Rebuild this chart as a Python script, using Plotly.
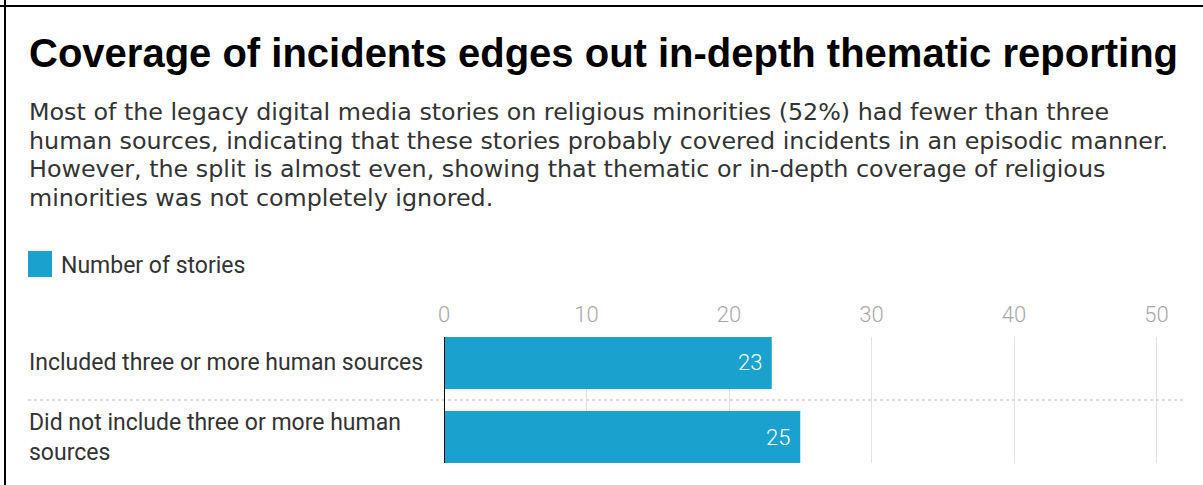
import plotly.graph_objects as go

categories = ["Included three or more human sources",
              "Did not include three or more human sources"]
category_labels = ["Included three or more human sources",
                   "Did not include three or more human<br>sources"]
values = [23, 25]
series_name = "Number of stories"
tick_values = [0, 10, 20, 30, 40, 50]

title = "Coverage of incidents edges out in-depth thematic reporting"
subtitle_lines = [
    "Most of the legacy digital media stories on religious minorities (52%) had fewer than three",
    "human sources, indicating that these stories probably covered incidents in an episodic manner.",
    "However, the split is almost even, showing that thematic or in-depth coverage of religious",
    "minorities was not completely ignored.",
]

BAR = "#1aa1cd"
W, H = 1203, 485
L, R, T, B = 444, 18, 337, 22
pw = W - L - R
ph = H - T - B

def px_x(px):
    return (px - L) / pw

def px_y(py):
    return 1 - (py - T) / ph

fig = go.Figure()
fig.add_trace(go.Bar(
    y=categories, x=values, orientation="h", name=series_name,
    marker=dict(color=BAR, line=dict(width=0)),
    width=0.70, textposition="none",
    showlegend=False, cliponaxis=False, hoverinfo="x+y",
))

fig.update_layout(
    width=W, height=H,
    margin=dict(l=L, r=R, t=T, b=B, pad=0),
    paper_bgcolor="white", plot_bgcolor="white",
    font=dict(family="Roboto", color="#333333"),
    xaxis=dict(range=[0, 52], side="top", tickvals=tick_values,
               showgrid=True, gridcolor="#e2e2e2", gridwidth=1,
               zeroline=False, showline=False, ticks="",
               tickfont=dict(family="Roboto", size=22, color="#a8a8a8", weight=300),
               ticklabelstandoff=10, fixedrange=True),
    yaxis=dict(categoryorder="array", categoryarray=categories,
               autorange=False, range=[1.35, -0.35],
               showticklabels=False, showgrid=False, zeroline=False,
               showline=False, ticks="", fixedrange=True),
)

annotations = []
annotations.append(dict(text="<b>" + title + "</b>", xref="paper", yref="paper",
                        x=px_x(27), y=px_y(53), xanchor="left", yanchor="middle",
                        showarrow=False,
                        font=dict(family="Liberation Sans", size=40, color="#000000")))
for i, line in enumerate(subtitle_lines):
    annotations.append(dict(text=line, xref="paper", yref="paper",
                            x=px_x(27), y=px_y(112 + i * 28.7), xanchor="left",
                            yanchor="middle", showarrow=False,
                            font=dict(family="DejaVu Sans", size=23.8, color="#333333")))
annotations.append(dict(text=series_name, xref="paper", yref="paper",
                        x=px_x(59), y=px_y(265), xanchor="left", yanchor="middle",
                        showarrow=False,
                        font=dict(family="Roboto", size=23, color="#333333")))
for cat, lab in zip(categories, category_labels):
    annotations.append(dict(text=lab, xref="paper", yref="y", x=px_x(27), y=cat,
                            xanchor="left", yanchor="middle", align="left",
                            showarrow=False,
                            font=dict(family="Roboto", size=23, color="#333333")))
for cat, v in zip(categories, values):
    annotations.append(dict(text=str(v), xref="x", yref="y", x=v, y=cat,
                            xanchor="right", yanchor="middle", xshift=-8,
                            showarrow=False,
                            font=dict(family="Roboto", size=22, color="white", weight=300)))
fig.update_layout(annotations=annotations)

shapes = []
shapes.append(dict(type="rect", xref="paper", yref="paper",
                   x0=px_x(28), x1=px_x(52), y0=px_y(251), y1=px_y(277),
                   fillcolor=BAR, line=dict(width=0)))
shapes.append(dict(type="line", xref="paper", yref="y",
                   x0=px_x(28), x1=1, y0=0.5, y1=0.5,
                   line=dict(color="#bbbbbb", width=1, dash="dot"), layer="below"))
shapes.append(dict(type="line", xref="x", yref="paper", x0=0, x1=0, y0=0, y1=1,
                   line=dict(color="#111111", width=2), layer="above"))
shapes.append(dict(type="line", xref="paper", yref="paper",
                   x0=px_x(0), x1=px_x(W), y0=px_y(6), y1=px_y(6),
                   line=dict(color="#000000", width=2)))
shapes.append(dict(type="line", xref="paper", yref="paper",
                   x0=px_x(5), x1=px_x(5), y0=px_y(0), y1=px_y(H),
                   line=dict(color="#000000", width=2)))
fig.update_layout(shapes=shapes)

fig.write_html("out.html", config={"displayModeBar": False},
               post_script="document.body.style.margin='0';")
